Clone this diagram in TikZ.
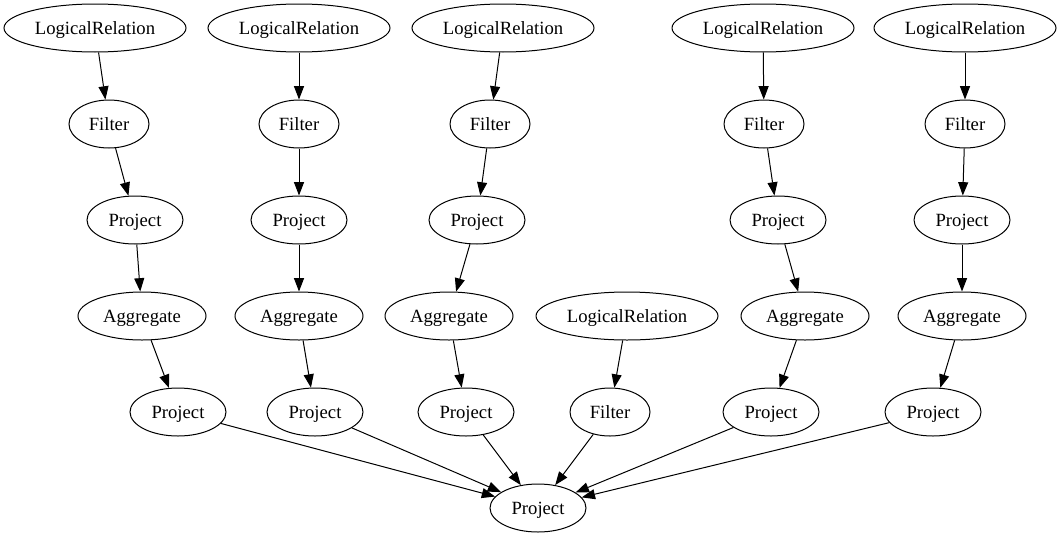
\documentclass[tikz,border=0pt]{standalone}
\usepackage{fontspec}
\setmainfont{Liberation Serif}
\usetikzlibrary{shapes.geometric}
\usetikzlibrary{arrows.meta}
\tikzstyle{operator}=[draw, ellipse, inner sep=0, minimum height=36pt, line width=0.75pt, text height=9.5pt, text depth=0.5pt, font=\fontsize{14pt}{16pt}\selectfont]
\tikzstyle{relation}=[operator, minimum width=136.5pt]
\tikzstyle{filter}=[operator, minimum width=60pt]
\tikzstyle{project}=[operator, minimum width=72pt]
\tikzstyle{aggregate}=[operator, minimum width=96pt]
\tikzstyle{flow}=[-{Triangle[length=10pt, width=7.5pt]}, line width=0.75pt]

\begin{document}
\begin{tikzpicture}[x=0.75pt, y=-0.75pt]
    \useasboundingbox (0, 0) rectangle (1062, 539);

    \node[relation] (rel_a) at (95, 28) {LogicalRelation};
    \node[relation] (rel_b) at (299, 28) {LogicalRelation};
    \node[relation] (rel_c) at (503, 28) {LogicalRelation};
    \node[relation] (rel_d) at (763, 28) {LogicalRelation};
    \node[relation] (rel_e) at (965, 28) {LogicalRelation};

    \node[filter] (filter_a) at (109, 124) {Filter};
    \node[filter] (filter_b) at (299, 124) {Filter};
    \node[filter] (filter_c) at (490, 124) {Filter};
    \node[filter] (filter_d) at (764, 124) {Filter};
    \node[filter] (filter_e) at (965, 124) {Filter};

    \node[project] (inner_a) at (135, 220) {Project};
    \node[project] (inner_b) at (299, 220) {Project};
    \node[project] (inner_c) at (477, 220) {Project};
    \node[project] (inner_d) at (778, 220) {Project};
    \node[project] (inner_e) at (962, 220) {Project};

    \node[aggregate] (agg_a) at (142, 316) {Aggregate};
    \node[aggregate] (agg_b) at (299, 316) {Aggregate};
    \node[aggregate] (agg_c) at (449, 316) {Aggregate};
    \node[relation] (rel_f) at (627, 316) {LogicalRelation};
    \node[aggregate] (agg_d) at (805, 316) {Aggregate};
    \node[aggregate] (agg_e) at (962, 316) {Aggregate};

    \node[project] (outer_a) at (178, 412) {Project};
    \node[project] (outer_b) at (315, 412) {Project};
    \node[project] (outer_c) at (466, 412) {Project};
    \node[filter] (filter_f) at (610, 412) {Filter};
    \node[project] (outer_d) at (771, 412) {Project};
    \node[project] (outer_e) at (933, 412) {Project};

    \node[project] (root) at (538, 508) {Project};

    \draw[flow] (rel_a) to (filter_a);
    \draw[flow] (filter_a) to (inner_a);
    \draw[flow] (inner_a) to (agg_a);
    \draw[flow] (agg_a) to (outer_a);
    \draw[flow] (outer_a) to (root);

    \draw[flow] (rel_b) to (filter_b);
    \draw[flow] (filter_b) to (inner_b);
    \draw[flow] (inner_b) to (agg_b);
    \draw[flow] (agg_b) to (outer_b);
    \draw[flow] (outer_b) to (root);

    \draw[flow] (rel_c) to (filter_c);
    \draw[flow] (filter_c) to (inner_c);
    \draw[flow] (inner_c) to (agg_c);
    \draw[flow] (agg_c) to (outer_c);
    \draw[flow] (outer_c) to (root);

    \draw[flow] (rel_f) to (filter_f);
    \draw[flow] (filter_f) to (root);

    \draw[flow] (rel_d) to (filter_d);
    \draw[flow] (filter_d) to (inner_d);
    \draw[flow] (inner_d) to (agg_d);
    \draw[flow] (agg_d) to (outer_d);
    \draw[flow] (outer_d) to (root);

    \draw[flow] (rel_e) to (filter_e);
    \draw[flow] (filter_e) to (inner_e);
    \draw[flow] (inner_e) to (agg_e);
    \draw[flow] (agg_e) to (outer_e);
    \draw[flow] (outer_e) to (root);
  \end{tikzpicture}
\end{document}
